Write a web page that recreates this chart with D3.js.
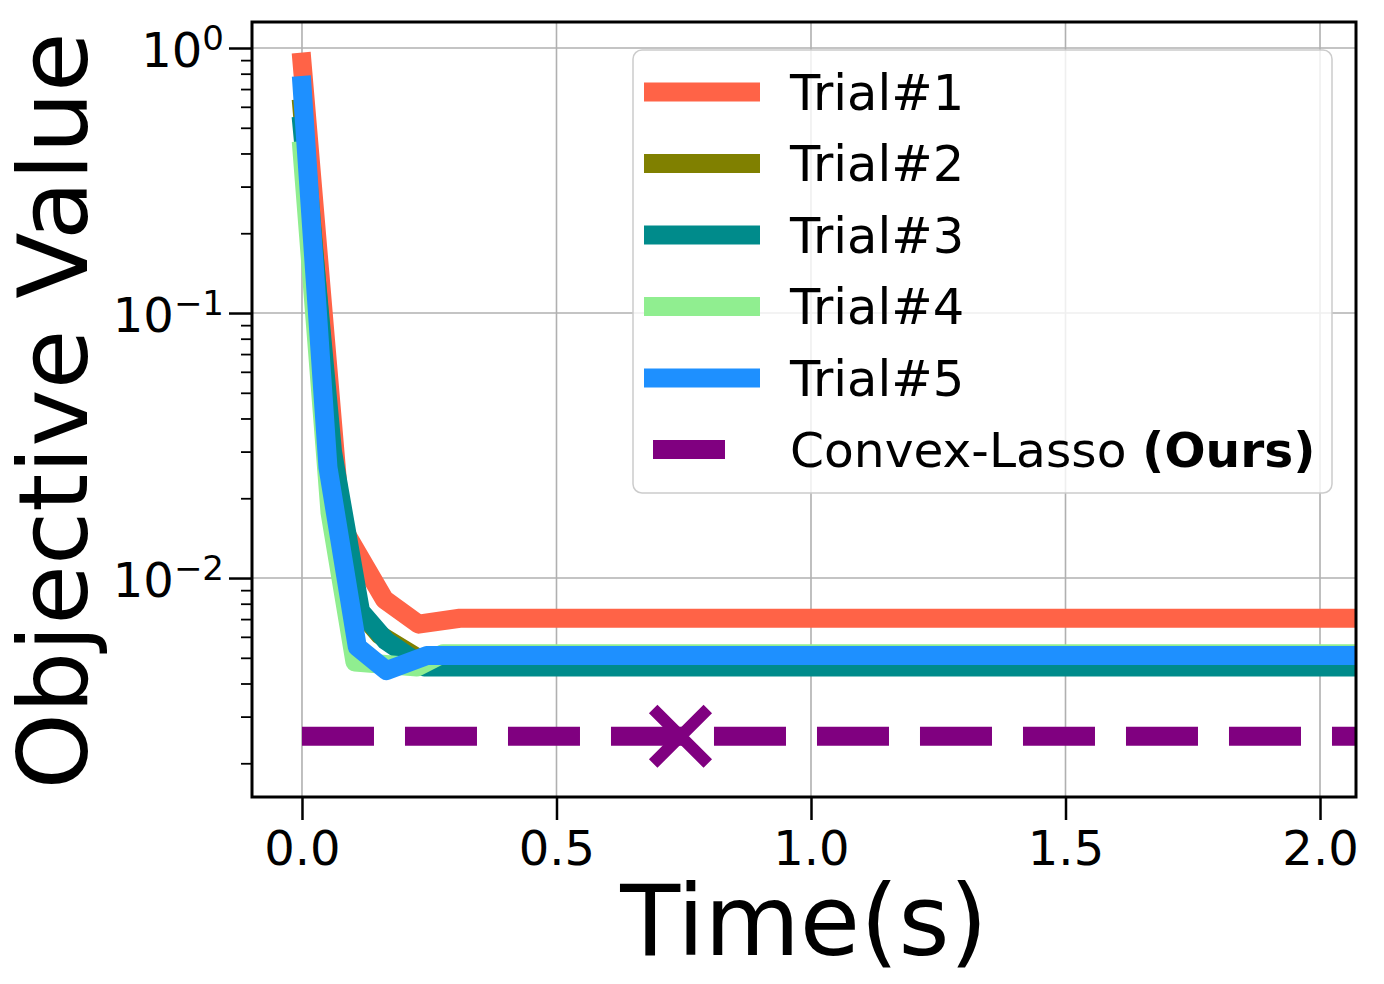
<!DOCTYPE html>
<html><head><meta charset="utf-8">
<script src="https://cdn.jsdelivr.net/npm/d3@7"></script>
<style>
html,body{margin:0;padding:0;background:#fff;}
svg{display:block;font-family:"DejaVu Sans",sans-serif;}
</style></head>
<body><svg id="chart" width="1384" height="984"></svg>
<script>
// ---- data ----
const seriesNames = ["Trial#1","Trial#2","Trial#3","Trial#4","Trial#5"];
const seriesColors = ["#ff6347","#808000","#008b8b","#90ee90","#1e90ff"];
const trial1T = [0, 0.077, 0.162, 0.229, 0.31, 2.2];
const trial1V = [0.885, 0.0158, 0.0083, 0.0067, 0.00705, 0.00705];
const trial2T = [0, 0.058, 0.11, 0.153, 0.232, 0.30, 2.2];
const trial2V = [0.590, 0.028, 0.0076, 0.0061, 0.00493, 0.0049, 0.0049];
const trial3T = [0, 0.06, 0.115, 0.165, 0.24, 2.2];
const trial3V = [0.509, 0.030, 0.0075, 0.0058, 0.00462, 0.00462];
const trial4T = [0, 0.055, 0.104, 0.226, 0.277, 2.2];
const trial4V = [0.410, 0.0177, 0.00482, 0.00462, 0.00518, 0.00518];
const trial5T = [0, 0.051, 0.1087, 0.166, 0.245, 2.2];
const trial5V = [0.722, 0.0262, 0.0055, 0.00447, 0.0051, 0.0051];
const convexName = "Convex-Lasso";
const convexValue = 0.00253;
const convexRangeT = [0, 2.2];
const convexMarkerT = 0.7436;
const xTicks = [0, 0.5, 1.0, 1.5, 2.0];
const yTicks = [1, 0.1, 0.01];
const yTickExp = ["0", "\u22121", "\u22122"];
const yMinorTicks = [2,3,4,5,6,7,8,9].flatMap(m => [m*1e-3, m*1e-2, m*1e-1]);

const seriesT = [trial1T, trial2T, trial3T, trial4T, trial5T];
const seriesV = [trial1V, trial2V, trial3V, trial4V, trial5V];

// ---- layout ----
const L = 252, T = 22, R = 1356, B = 797;
const svg = d3.select("#chart");
const x = d3.scaleLinear().domain([-0.0982, 2.0707]).range([L, R]);
const y = d3.scaleLog().domain([0.001492, 1.2535]).range([B, T]);

svg.append("defs").append("clipPath").attr("id","clip")
  .append("rect").attr("x",L).attr("y",T).attr("width",R-L).attr("height",B-T);

// grid
const grid = svg.append("g");
grid.selectAll("line.gx").data(xTicks).join("line")
  .attr("x1",d=>x(d)).attr("x2",d=>x(d)).attr("y1",T).attr("y2",B)
  .attr("stroke","#b0b0b0").attr("stroke-width",1.6);
grid.selectAll("line.gy").data(yTicks).join("line")
  .attr("y1",d=>y(d)).attr("y2",d=>y(d)).attr("x1",L).attr("x2",R)
  .attr("stroke","#b0b0b0").attr("stroke-width",1.6);

// lines
const plot = svg.append("g").attr("clip-path","url(#clip)");
const line = d3.line().x(d=>x(d[0])).y(d=>y(d[1]));
seriesT.forEach((ts,i)=>{
  const pts = ts.map((t,j)=>[t, seriesV[i][j]]);
  plot.append("path").attr("d", line(pts))
    .attr("fill","none").attr("stroke",seriesColors[i])
    .attr("stroke-width",19).attr("stroke-linejoin","round").attr("stroke-linecap","square");
});
plot.append("path").attr("d", line(convexRangeT.map(t=>[t, convexValue])))
  .attr("fill","none").attr("stroke","#800080").attr("stroke-width",19)
  .attr("stroke-dasharray","72 31").attr("stroke-linecap","butt");
// marker x
const mx = x(convexMarkerT), my = y(convexValue), ms = 27.3;
plot.append("path")
  .attr("d",`M${mx-ms},${my-ms}L${mx+ms},${my+ms}M${mx-ms},${my+ms}L${mx+ms},${my-ms}`)
  .attr("stroke","#800080").attr("stroke-width",12).attr("fill","none");

// axes
const xAxis = svg.append("g").attr("transform",`translate(0,${B})`)
  .call(d3.axisBottom(x).tickValues(xTicks).tickFormat(d3.format(".1f")).tickSize(23).tickPadding(8));
xAxis.select(".domain").remove();
xAxis.selectAll(".tick line").attr("stroke","#000").attr("stroke-width",2.5);
xAxis.selectAll(".tick text").attr("font-size",48).attr("font-family","DejaVu Sans").attr("fill","#000")
  .attr("dy",null).attr("y",68);

const yAxis = svg.append("g").attr("transform",`translate(${L},0)`)
  .call(d3.axisLeft(y).tickValues(yTicks).tickFormat("").tickSize(23));
yAxis.select(".domain").remove();
yAxis.selectAll(".tick line").attr("stroke","#000").attr("stroke-width",2.5);
const yMinor = svg.append("g").attr("transform",`translate(${L},0)`)
  .call(d3.axisLeft(y).tickValues(yMinorTicks.filter(v=>v>=0.001492 && v<=1.2535)).tickFormat("").tickSize(11));
yMinor.select(".domain").remove();
yMinor.selectAll(".tick line").attr("stroke","#000").attr("stroke-width",1.8);

const ylab = svg.append("g").selectAll("text").data(yTicks).join("text")
  .attr("x",224).attr("y",d=>y(d)+19).attr("text-anchor","end")
  .attr("font-size",48).attr("fill","#000");
ylab.append("tspan").text("10");
ylab.append("tspan").attr("dy",-17).attr("font-size",34).text((d,i)=>yTickExp[i]);

// frame
svg.append("rect").attr("x",L).attr("y",T).attr("width",R-L).attr("height",B-T)
  .attr("fill","none").attr("stroke","#000").attr("stroke-width",3);

// axis labels
svg.append("text").attr("x",804).attr("y",955).attr("text-anchor","middle")
  .attr("font-size",98).attr("fill","#000").text("Time(s)");
svg.append("text").attr("transform","translate(87,411) rotate(-90)").attr("text-anchor","middle")
  .attr("font-size",97).attr("fill","#000").text("Objective Value");

// legend
const lg = svg.append("g");
lg.append("rect").attr("x",633).attr("y",50).attr("width",699).attr("height",443)
  .attr("rx",9).attr("fill","#fff").attr("fill-opacity",0.8)
  .attr("stroke","#cccccc").attr("stroke-width",1.5);
const rowY = [92, 163.5, 235, 306.5, 378, 449.5];
seriesNames.forEach((n,i)=>{
  lg.append("line").attr("x1",644).attr("x2",760).attr("y1",rowY[i]).attr("y2",rowY[i])
    .attr("stroke",seriesColors[i]).attr("stroke-width",19);
  lg.append("text").attr("x",790).attr("y",rowY[i]+17.5).attr("font-size",49.5).attr("fill","#000").text(n);
});
lg.append("line").attr("x1",653).attr("x2",725).attr("y1",rowY[5]).attr("y2",rowY[5])
  .attr("stroke","#800080").attr("stroke-width",19);
const ct = lg.append("text").attr("x",790).attr("y",rowY[5]+17.5).attr("font-size",48.7).attr("fill","#000");
ct.append("tspan").text(convexName + " ");
ct.append("tspan").attr("font-weight","bold").text("(Ours)");
</script></body></html>
